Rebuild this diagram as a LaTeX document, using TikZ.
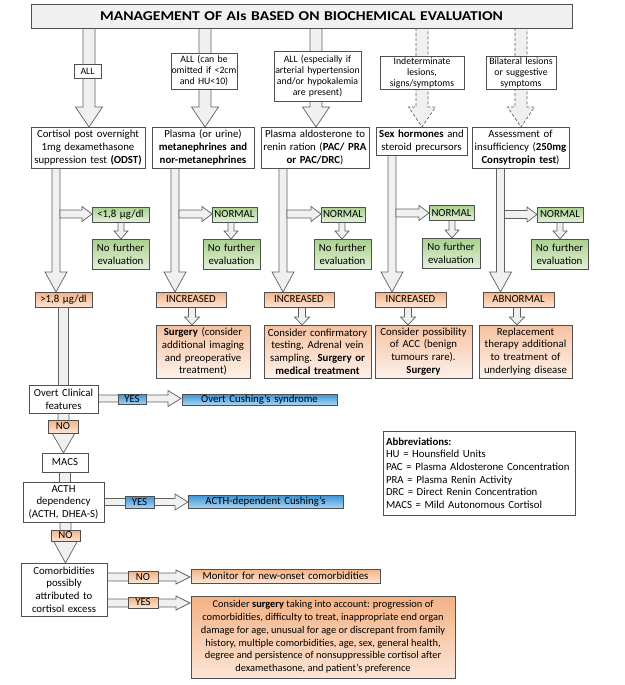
\documentclass[tikz,border=0pt]{standalone}
\usepackage{fontspec}
\setmainfont{Carlito}
\newfontfamily\titlef[FakeStretch=1.16]{Carlito}
\definecolor{bord}{HTML}{505050}
\definecolor{arrb}{HTML}{606060}
\definecolor{arrf}{HTML}{F0F0F0}
\definecolor{ttlf}{HTML}{F0F0F0}
\definecolor{gtop}{HTML}{A9D18E}
\definecolor{gbot}{HTML}{E2F0D9}
\definecolor{otop}{HTML}{F4B183}
\definecolor{obot}{HTML}{FBE5D6}
\definecolor{oltop}{HTML}{F6C2A2}
\definecolor{olbot}{HTML}{FDF1E9}
\definecolor{btop}{HTML}{3A93D5}
\definecolor{bbot}{HTML}{A8D4F2}
\newcommand{\fsA}{\fontsize{10.8}{12.7}\selectfont}
\newcommand{\fsB}{\fontsize{10.4}{12.8}\selectfont}
\newcommand{\fsL}{\fontsize{9.8}{11}\selectfont}
\newcommand{\fsT}{\titlef\bfseries\fontsize{13.5}{15}\selectfont}
% vertical block arrow: [style]{x}{y tail}{y tip}{shaft half}{head half}{head length}
\newcommand{\myvarrow}[7][arr]{\draw[#1] ({#2-#5},#3) -- ({#2-#5},{#4-#7}) -- ({#2-#6},{#4-#7}) -- (#2,#4) -- ({#2+#6},{#4-#7}) -- ({#2+#5},{#4-#7}) -- ({#2+#5},#3) -- cycle;}
% horizontal block arrow: [style]{y}{x tail}{x tip}{shaft half}{head half}{head length}
\newcommand{\myharrow}[7][arr]{\draw[#1] (#3,{#2-#5}) -- ({#4-#7},{#2-#5}) -- ({#4-#7},{#2-#6}) -- (#4,#2) -- ({#4-#7},{#2+#6}) -- ({#4-#7},{#2+#5}) -- (#3,{#2+#5}) -- cycle;}
\tikzset{
  bx/.style={draw=bord, line width=0.7pt, fill=white, align=center, inner sep=0pt, font=\fsA},
  lab/.style={bx, font=\fsL},
  ttl/.style={draw=bord, line width=0.7pt, fill=ttlf, align=center, inner sep=0pt, font=\fsT},
  grn/.style={bx, top color=gtop, bottom color=gbot},
  org/.style={bx, top color=otop, bottom color=obot},
  orgl/.style={bx, top color=oltop, bottom color=olbot},
  blu/.style={bx, top color=btop, bottom color=bbot},
  arr/.style={draw=arrb, fill=arrf, line width=0.7pt, line join=miter},
  darr/.style={arr, dash pattern=on 3pt off 2pt}
}
\begin{document}
\begin{tikzpicture}[x=1pt,y=-1pt]
\useasboundingbox (0,0) rectangle (624,685);
% ---- top arrows
\myvarrow{89}{28}{127}{6}{13.5}{20}
\myvarrow{205}{28}{127}{6}{13.5}{20}
\myvarrow{316}{28}{127}{6}{13.5}{20}
\myvarrow[darr]{422}{28}{127}{6}{13.5}{20}
\myvarrow[darr]{521}{28}{127}{6}{13.5}{20}
% ---- title
\node[ttl, text width=541pt, minimum height=24pt] (title) at (301.5,16) {MANAGEMENT OF AIs BASED ON BIOCHEMICAL EVALUATION};
% ---- labels on top arrows
\node[lab, text width=27pt, minimum height=14pt] (l1) at (87.5,71) {ALL};
\node[lab, text width=66pt, minimum height=36pt] (l2) at (204,71) {ALL (can be\\omitted if <2cm\\and HU<10)};
\node[lab, text width=87pt, minimum height=50pt] (l3) at (317.5,76) {ALL (especially if\\arterial hypertension\\and/or hypokalemia\\are present)};
\node[lab, text width=84pt, minimum height=33pt] (l4) at (422,72.5) {Indeterminate\\lesions,\\signs/symptoms};
\node[lab, text width=70pt, minimum height=33pt] (l5) at (521,72.5) {Bilateral lesions\\or suggestive\\symptoms};
% ---- arrows from row 2
\myvarrow{56}{168}{292}{4}{11}{20}
\myvarrow{175}{168}{292}{4}{11}{20}
\myvarrow{283}{168}{292}{4}{11}{20}
\myvarrow{392}{155}{292}{4}{11}{20}
\myvarrow{500.5}{168}{292}{4}{11}{20}
\myharrow{214}{60}{92}{4}{7.5}{10}
\myharrow{214}{179}{212}{4}{7.5}{10}
\myharrow{214}{287}{321}{4}{7.5}{10}
\myharrow{213}{396}{429}{4}{7.5}{10}
\myharrow{214.5}{504.5}{537}{4}{7.5}{10}
\myvarrow{121}{222}{239}{3}{7}{8}
\myvarrow{231}{222}{239}{3}{7}{8}
\myvarrow{342}{222}{239}{3}{7}{8}
\myvarrow{452}{220}{238}{3}{7}{8}
\myvarrow{560}{222}{239}{3}{7}{8}
% ---- row 2 boxes
\node[bx, text width=114pt, minimum height=41pt] (b1) at (88,147.5) {Cortisol post overnight\\1mg dexamethasone\\suppression test \textbf{(ODST)}};
\node[bx, text width=102pt, minimum height=41pt] (b2) at (203,147.5) {Plasma (or urine)\\\textbf{metanephrines and}\\\textbf{nor-metanephrines}};
\node[bx, text width=108pt, minimum height=41pt] (b3) at (315,147.5) {Plasma aldosterone to\\renin ration (\textbf{PAC/ PRA}\\\textbf{or PAC/DRC})};
\node[bx, text width=91pt, minimum height=28pt] (b4) at (421.5,141) {\textbf{Sex hormones} and\\steroid precursors};
\node[bx, text width=97pt, minimum height=41pt] (b5) at (520.5,147.5) {Assessment of\\insufficiency (\textbf{250mg}\\\textbf{Consytropin test})};
% ---- normal boxes
\node[grn, text width=57pt, minimum height=15pt] (n1) at (120.5,214.5) {<1,8 µg/dl};
\node[grn, text width=45pt, minimum height=15pt] (n2) at (234.5,214.5) {NORMAL};
\node[grn, text width=44pt, minimum height=15pt] (n3) at (343,214.5) {NORMAL};
\node[grn, text width=45pt, minimum height=15pt] (n4) at (451.5,213) {NORMAL};
\node[grn, text width=46pt, minimum height=15pt] (n5) at (560,214.5) {NORMAL};
\node[grn, text width=57pt, minimum height=30pt] (f1) at (120.5,254) {No further\\evaluation};
\node[grn, text width=57pt, minimum height=30pt] (f2) at (231.5,254) {No further\\evaluation};
\node[grn, text width=57pt, minimum height=30pt] (f3) at (342.5,254) {No further\\evaluation};
\node[grn, text width=58pt, minimum height=30pt] (f4) at (451,253) {No further\\evaluation};
\node[grn, text width=57pt, minimum height=30pt] (f5) at (559.5,254) {No further\\evaluation};
% ---- row 3 -> row 4 arrows
\myvarrow{192}{307}{325}{3.5}{7.5}{8}
\myvarrow{302}{307}{325}{3.5}{7.5}{8}
\myvarrow{408}{307}{325}{3.5}{7.5}{8}
\myvarrow{517}{307}{325}{3.5}{7.5}{8}
% ---- row 3 boxes
\node[org, text width=57pt, minimum height=15pt] (c1) at (63.5,299.5) {>1,8 µg/dl};
\node[org, text width=70pt, minimum height=15pt] (c2) at (191,299.5) {INCREASED};
\node[org, text width=70pt, minimum height=15pt] (c3) at (299,299.5) {INCREASED};
\node[org, text width=71pt, minimum height=15pt] (c4) at (410.5,299.5) {INCREASED};
\node[org, text width=71pt, minimum height=15pt] (c5) at (518.5,299.5) {ABNORMAL};
% ---- row 4 boxes
\node[orgl, text width=94pt, minimum height=53pt] (d2) at (203,351.5) {\textbf{Surgery} (consider\\additional imaging\\and preoperative\\treatment)};
\node[orgl, text width=107pt, minimum height=53pt] (d3) at (317.5,351.5) {Consider confirmatory\\testing, Adrenal vein\\sampling. \textbf{Surgery or}\\\textbf{medical treatment}};
\node[orgl, text width=97pt, minimum height=53pt] (d4) at (423.5,351.5) {Consider possibility\\of ACC (benign\\tumours rare).\\\textbf{Surgery}};
\node[orgl, text width=93pt, minimum height=53pt] (d5) at (525.5,351.5) {Replacement\\therapy additional\\to treatment of\\underlying disease};
% ---- cortisol branch
\draw[arr] (58,307) rectangle (68,385);
\myharrow{398.5}{98}{181}{3.5}{8}{13}
\myvarrow{63.5}{413}{453}{5.5}{11.5}{20}
\draw[arr] (59.5,472) rectangle (70.5,482);
\myharrow{502}{104}{188}{3.5}{8}{13}
\myvarrow{65.5}{522}{563}{5.5}{12}{22}
\myharrow{577}{107}{190}{4}{7}{14}
\myharrow{603}{107}{190}{4}{7}{14}
\node[bx, text width=69pt, minimum height=28pt] (oc) at (63.5,399) {Overt Clinical\\features};
\node[blu, text width=28pt, minimum height=10.5pt] (y1) at (132,399.3) {YES};
\node[blu, text width=155pt, minimum height=11pt] (ocs) at (259.5,399.5) {Overt Cushing’s syndrome};
\node[org, text width=30pt, minimum height=13pt] (no1) at (63,426.5) {NO};
\node[bx, text width=46pt, minimum height=19pt] (macs) at (65,462.5) {MACS};
\node[bx, text width=81pt, minimum height=40pt] (acth) at (63.5,502) {ACTH\\dependency\\(ACTH, DHEA-S)};
\node[blu, text width=29pt, minimum height=12pt] (y2) at (139.5,502) {YES};
\node[blu, text width=155pt, minimum height=13pt] (acd) at (265.5,501.5) {ACTH-dependent Cushing’s};
\node[org, text width=29pt, minimum height=11pt] (no2) at (65.5,535.5) {NO};
\node[bx, text width=86pt, minimum height=53pt] (com) at (64,589.5) {Comorbidities\\possibly\\attributed to\\cortisol excess};
\node[org, text width=30pt, minimum height=12pt] (no3) at (143,577) {NO};
\node[org, text width=30pt, minimum height=11pt] (y3) at (143,602.5) {YES};
\node[org, text width=189pt, minimum height=14pt] (mon) at (285.5,576) {Monitor for new-onset comorbidities};
\node[orgl, top color=otop, bottom color=obot, font=\fsB, minimum width=264pt, minimum height=82pt] (surg) at (323,637) {Consider \textbf{surgery} taking into account: progression of\\comorbidities, difficulty to treat, inappropriate end organ\\damage for age, unusual for age or discrepant from family\\history, multiple comorbidities, age, sex, general health,\\degree and persistence of nonsuppressible cortisol after\\dexamethasone, and patient’s preference};
% ---- abbreviations
\node[bx, align=left, text width=186pt, inner xsep=3pt, minimum height=84pt] (abbr) at (479,473) {\textbf{Abbreviations:}\\HU = Hounsfield Units\\PAC = Plasma Aldosterone Concentration\\PRA = Plasma Renin Activity\\DRC = Direct Renin Concentration\\MACS = Mild Autonomous Cortisol};
\end{tikzpicture}
\end{document}
